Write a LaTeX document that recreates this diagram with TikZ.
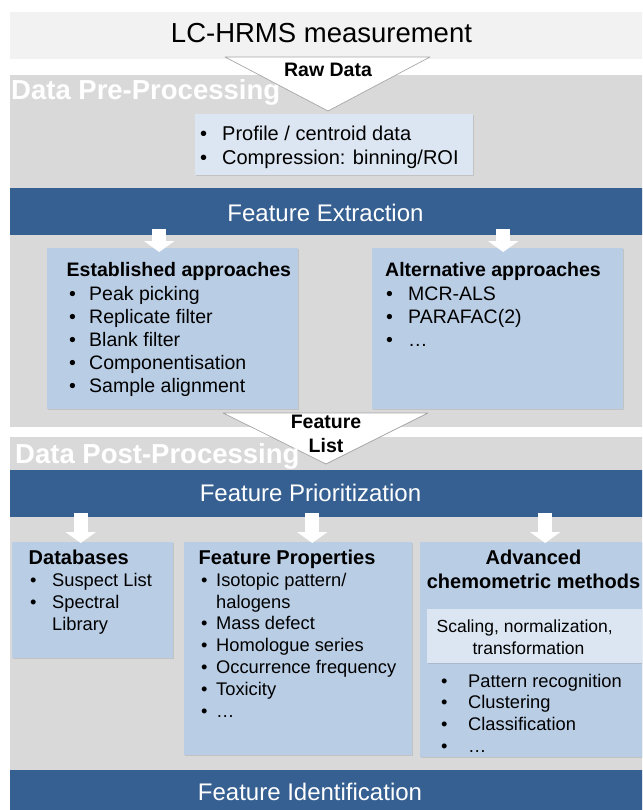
\documentclass[tikz,border=0pt]{standalone}
\usepackage{fontspec}
\setmainfont{Liberation Sans}
\usetikzlibrary{arrows.meta,calc,shadows}

\definecolor{lcgray}{HTML}{F2F2F2}
\definecolor{panelgray}{HTML}{D9D9D9}
\definecolor{stepblue}{HTML}{376092}
\definecolor{boxblue}{HTML}{B9CDE5}
\definecolor{boxpale}{HTML}{DCE6F2}

\newcommand{\itm}[2][20pt]{\makebox[#1][l]{\textbullet}#2}
\newcommand{\cont}[2][20pt]{\hspace*{#1}#2}

\begin{document}
\begin{tikzpicture}[
    x=1pt, y=-1pt,
    panel/.style={fill=panelgray, anchor=north west, inner sep=0pt, minimum width=640pt},
    stepband/.style={fill=stepblue, anchor=north west, inner sep=0pt, minimum width=640pt},
    steptext/.style={text=white, font=\fontsize{24}{28}\selectfont, anchor=base, inner sep=0pt},
    stagetext/.style={text=white, font=\fontsize{27.5}{30}\selectfont\bfseries, anchor=base west, inner sep=0pt},
    infobox/.style={fill=boxblue, anchor=north west, inner sep=0pt,
      drop shadow={opacity=0.25, shadow xshift=0.8pt, shadow yshift=-1.2pt}},
    boxtitle/.style={font=\fontsize{19.5}{23}\selectfont\bfseries, anchor=base west, inner sep=0pt},
    listitem/.style={font=\fontsize{19.5}{23}\selectfont, anchor=base west, inner sep=0pt},
    posttitle/.style={font=\fontsize{20}{23}\selectfont\bfseries, inner sep=0pt},
    postitem/.style={font=\fontsize{18.3}{22}\selectfont, anchor=base west, inner sep=0pt},
    funnel/.style={fill=white, draw=gray!70, line width=0.7pt, line join=round},
    funneltext/.style={font=\fontsize{19.5}{23}\selectfont\bfseries, anchor=base, inner sep=0pt},
    blockarrow/.style={draw=white, line width=14pt, -{Triangle[length=11pt,width=30pt]}}
  ]

  \useasboundingbox (0,0) rectangle (642,810);
  \clip (0,0) rectangle (642,810);

  % measurement and the two processing panels
  \node[panel, fill=lcgray, minimum height=47pt] (lc) at (10,12) {};
  \node[font=\fontsize{27.5}{30}\selectfont, anchor=base, inner sep=0pt] (lc-t) at (321.5,43) {LC-HRMS measurement};
  \node[panel, minimum height=352pt] (pre) at (10,75) {};
  \node[panel, minimum height=380pt] (post) at (10,437) {};
  \node[stagetext] (pre-t) at (11,100) {Data Pre-Processing};

  \coordinate (rawL) at (225,57);
  \coordinate (rawR) at (430,57);
  \coordinate (rawA) at (328,111);
  \draw[funnel] (rawL) -- (rawR) -- (rawA) -- cycle;
  \node[funneltext] (raw-t) at (328,77) {Raw Data};

  \node[infobox, fill=boxpale, minimum width=278pt, minimum height=61pt] (prof) at (195,114) {};
  \foreach \txt [count=\i] in {Profile / centroid data, Compression: binning/ROI}
    \node[listitem, font=\fontsize{20}{24}\selectfont] (prof-\i) at (200,117+24*\i) {\itm[22pt]{\txt}};

  % feature extraction
  \node[stepband, minimum height=47pt] (extract) at (10,188) {};
  \node[steptext] (extract-t) at (325.5,222) {Feature Extraction};

  \node[infobox, minimum width=251pt, minimum height=161pt] (est) at (47,248) {};
  \node[infobox, minimum width=251pt, minimum height=161pt] (alt) at (372,248) {};
  \draw[blockarrow] ($(est.north |- extract.south)+(-13.5,-6)$) -- ($(est.north)+(-13.5,4)$);
  \draw[blockarrow] ($(alt.north |- extract.south)+(5.5,-6)$) -- ($(alt.north)+(5.5,4)$);

  \node[boxtitle] (est-t) at (66.5,276.8) {Established approaches};
  \foreach \txt [count=\i] in {Peak picking, Replicate filter, Blank filter, Componentisation, Sample alignment}
    \node[listitem] (est-\i) at (69,276.8+23.2*\i) {\itm[20pt]{\txt}};

  \node[boxtitle] (alt-t) at (385,276.8) {Alternative approaches};
  \foreach \txt [count=\i] in {MCR-ALS, PARAFAC(2), …}
    \node[listitem] (alt-\i) at (386,276.8+23.2*\i) {\itm[22pt]{\txt}};

  \coordinate (listL) at (223,413);
  \coordinate (listR) at (428,413);
  \coordinate (listA) at (326,464);
  \draw[funnel] (listL) -- (listR) -- (listA) -- cycle;
  \node[funneltext] (list-1) at (326,428) {Feature};
  \node[funneltext] (list-2) at (326,452) {List};

  % feature prioritization
  \node[stagetext] (post-t) at (15,463) {Data Post-Processing};
  \node[stepband, minimum height=47pt] (prio) at (10,470) {};
  \node[steptext] (prio-t) at (310.5,501.5) {Feature Prioritization};

  \node[infobox, minimum width=161pt, minimum height=116pt] (db) at (12,542) {};
  \node[infobox, minimum width=228pt, minimum height=213pt] (fp) at (184,542) {};
  \node[infobox, minimum width=228pt, minimum height=215pt] (adv) at (420,542) {};
  \node[infobox, fill=boxpale, minimum width=221pt, minimum height=54pt] (scale) at (427,609) {};
  \draw[blockarrow] ($(db.north |- prio.south)+(-12,-4)$) -- ($(db.north)+(-12,1)$);
  \draw[blockarrow] ($(fp.north |- prio.south)+(14,-4)$) -- ($(fp.north)+(14,1)$);
  \draw[blockarrow] ($(adv.north |- prio.south)+(11,-4)$) -- ($(adv.north)+(11,1)$);

  \node[posttitle, anchor=base west] (db-t) at (28.5,564.5) {Databases};
  \foreach \txt [count=\i] in {\itm[22pt]{Suspect List}, \itm[22pt]{Spectral}, \cont[22pt]{Library}}
    \node[postitem] (db-\i) at (30,564.5+22*\i) {\txt};

  \node[posttitle, anchor=base west] (fp-t) at (198.5,564.5) {Feature Properties};
  \foreach \txt [count=\i] in {\itm[15pt]{Isotopic pattern/}, \cont[15pt]{halogens}, \itm[15pt]{Mass defect},
      \itm[15pt]{Homologue series}, \itm[15pt]{Occurrence frequency}, \itm[15pt]{Toxicity}, \itm[15pt]{…}}
    \node[postitem] (fp-\i) at (201,564.5+21.8*\i) {\txt};

  \node[posttitle, anchor=base] (adv-t1) at (533.5,564.5) {Advanced};
  \node[posttitle, anchor=base] (adv-t2) at (533.5,588.5) {chemometric methods};
  \node[postitem, font=\fontsize{17.5}{22}\selectfont] (scale-1) at (436.5,632) {Scaling, normalization,};
  \node[postitem, font=\fontsize{17.5}{22}\selectfont, anchor=base] (scale-2) at (528.5,654) {transformation};
  \foreach \txt [count=\i] in {Pattern recognition, Clustering, Classification, …}
    \node[postitem] (adv-\i) at (441,665.5+21.7*\i) {\itm[27pt]{\txt}};

  % feature identification
  \node[stepband, minimum height=50pt] (ident) at (10,770) {};
  \node[steptext] (ident-t) at (310,800) {Feature Identification};

\end{tikzpicture}
\end{document}
